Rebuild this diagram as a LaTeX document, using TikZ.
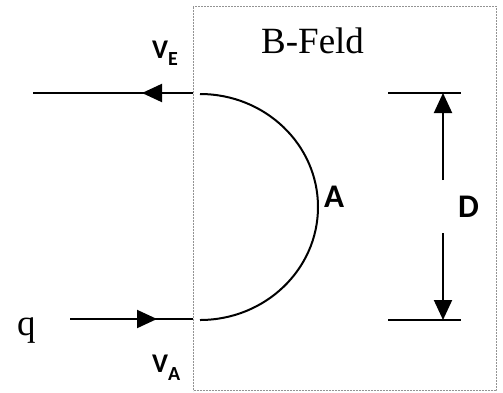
\documentclass[tikz,border=0pt]{standalone}
\usepackage{fontspec}
\setmainfont{Liberation Serif}
\newfontfamily\labfont{Carlito}
\usetikzlibrary{arrows.meta}
\begin{document}
\begin{tikzpicture}[x=1pt,y=1pt,
  path/.style={line width=2pt},
  tri/.style={-{Triangle[length=20pt,width=18pt]}},
  fieldbox/.style={draw=gray!85,line width=1pt,dash pattern=on 2pt off 1pt},
  lab/.style={inner sep=0pt,anchor=base west},
  serif/.style={lab,font=\fontsize{37}{42}\selectfont},
  sans/.style={lab,font=\labfont\bfseries\fontsize{33}{38}\selectfont},
  vel/.style={lab,font=\labfont\bfseries\fontsize{27}{32}\selectfont}]
\useasboundingbox (0,0) rectangle (503,-392);
% field box
\node[fieldbox,minimum width=303pt,minimum height=384pt,anchor=north west,inner sep=0pt] (box) at (193,-6) {};
% coordinates
\coordinate (uin) at (193,-93);
\coordinate (utip) at (142,-93);
\coordinate (uend) at (33,-93);
\coordinate (lstart) at (70,-319);
\coordinate (ltip) at (157,-319);
\coordinate (lin) at (193,-319);
\coordinate (atop) at (200,-94);
\coordinate (dtl) at (388,-93);
\coordinate (dtr) at (461,-93);
\coordinate (dbl) at (388,-320);
\coordinate (dbr) at (461,-320);
\coordinate (dt) at (443,-93);
\coordinate (db) at (443,-320);
\coordinate (dm1) at (443,-180);
\coordinate (dm2) at (443,-233);
% labels
\node[serif] (bf) at (261,-53) {B-Feld};
\node[serif] (q) at (17,-335) {q};
\node[sans] (A) at (324,-207) {A};
\node[sans] (D) at (458,-217) {D};
\node[vel] (ve) at (152,-58) {V\raisebox{-7pt}{\fontsize{20}{24}\selectfont E}};
\node[vel] (va) at (152,-372) {V\raisebox{-8pt}{\fontsize{20}{24}\selectfont A}};
% exit path
\draw[path] (uin) -- (uend);
\draw[path,tri] (uin) -- (utip);
% entry path
\draw[path] (lstart) -- (lin);
\draw[path,tri] (lstart) -- (ltip);
% semicircle
\draw[path] (atop) arc[start angle=90,end angle=-90,x radius=118,y radius=113];
% dimension D
\draw[path] (dtl) -- (dtr);
\draw[path] (dbl) -- (dbr);
\draw[path,tri] (dm1) -- (dt);
\draw[path,tri] (dm2) -- (db);
\end{tikzpicture}
\end{document}
